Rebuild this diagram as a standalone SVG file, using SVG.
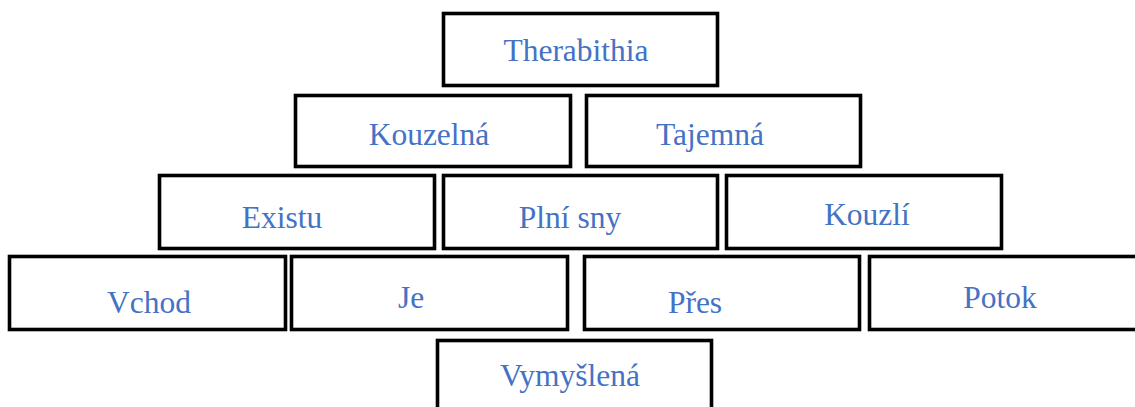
<svg xmlns="http://www.w3.org/2000/svg" width="1135" height="407" viewBox="0 0 1135 407">
<style>
.box{fill:#fff;stroke:#000;stroke-width:3.6}
.lbl{font-family:"Liberation Serif","Times New Roman",serif;font-size:31.5px;fill:#4472C4;text-anchor:middle}
</style>
<rect width="1135" height="407" fill="#fff"/>
<g id="connectors"></g>
<g id="n-therabithia"><rect class="box" x="443.5" y="13.5" width="274" height="72"/><text class="lbl" x="576" y="61">Therabithia</text></g>
<g id="n-kouzelna"><rect class="box" x="295.5" y="95.5" width="275" height="71"/><text class="lbl" x="429" y="145">Kouzelná</text></g>
<g id="n-tajemna"><rect class="box" x="586.5" y="95.5" width="274" height="71"/><text class="lbl" x="710" y="145">Tajemná</text></g>
<g id="n-existu"><rect class="box" x="159.5" y="175.5" width="275" height="73"/><text class="lbl" x="282" y="228">Existu</text></g>
<g id="n-plni-sny"><rect class="box" x="443.5" y="175.5" width="274" height="73"/><text class="lbl" x="570" y="228">Plní sny</text></g>
<g id="n-kouzli"><rect class="box" x="726.5" y="175.5" width="275" height="73"/><text class="lbl" x="867" y="225">Kouzlí</text></g>
<g id="n-vchod"><rect class="box" x="9.5" y="256.5" width="276" height="73"/><text class="lbl" x="149" y="313">Vchod</text></g>
<g id="n-je"><rect class="box" x="291.5" y="256.5" width="276" height="73"/><text class="lbl" x="411" y="308">Je</text></g>
<g id="n-pres"><rect class="box" x="584.5" y="256.5" width="275" height="73"/><text class="lbl" x="695" y="313">Přes</text></g>
<g id="n-potok"><rect class="box" x="869.5" y="256.5" width="280" height="73"/><text class="lbl" x="1000" y="308">Potok</text></g>
<g id="n-vymyslena"><rect class="box" x="437.5" y="340.5" width="274" height="80"/><text class="lbl" x="570" y="386">Vymyšlená</text></g>
</svg>
